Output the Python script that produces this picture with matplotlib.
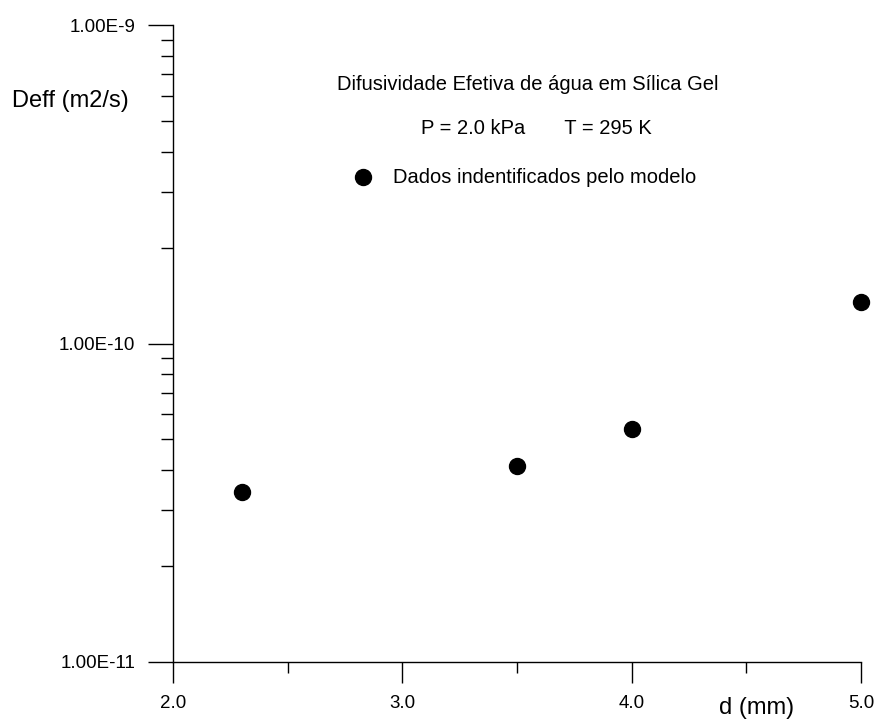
import matplotlib
matplotlib.use("Agg")
import matplotlib.pyplot as plt
from matplotlib.ticker import FixedLocator, LogLocator, NullFormatter, FixedFormatter

plt.rcParams['font.family'] = ['Liberation Sans', 'DejaVu Sans']

d_mm = [2.3, 3.5, 4.0, 5.0]
deff = [3.42e-11, 4.12e-11, 5.39e-11, 1.35e-10]

x_major = [2.0, 3.0, 4.0, 5.0]
x_major_labels = ["2.0", "3.0", "4.0", "5.0"]
x_minor = [2.5, 3.5, 4.5]
y_major = [1e-11, 1e-10, 1e-9]
y_major_labels = ["1.00E-11", "1.00E-10", "1.00E-9"]

title1 = "Difusividade Efetiva de água em Sílica Gel"
title2 = "P = 2.0 kPa       T = 295 K"
legend_label = "Dados indentificados pelo modelo"

W, H = 877, 722
fig = plt.figure(figsize=(W/100, H/100), dpi=100)
ax = fig.add_axes([173/W, 1-662/H, (861-173)/W, (662-25)/H])
ax.set_yscale('log')
ax.set_xlim(2.0, 5.0)
ax.set_ylim(1e-11, 1e-9)

ax.plot(d_mm, deff, 'o', color='black', markersize=11.5, clip_on=False, zorder=5)

for s in ['top', 'right']:
    ax.spines[s].set_visible(False)
for s in ['left', 'bottom']:
    ax.spines[s].set_linewidth(1.0)

ax.xaxis.set_major_locator(FixedLocator(x_major))
ax.xaxis.set_major_formatter(FixedFormatter(x_major_labels))
ax.xaxis.set_minor_locator(FixedLocator(x_minor))
ax.yaxis.set_major_locator(FixedLocator(y_major))
ax.yaxis.set_major_formatter(FixedFormatter(y_major_labels))
ax.yaxis.set_minor_locator(LogLocator(base=10, subs=range(2, 10)))
ax.yaxis.set_minor_formatter(NullFormatter())

ax.tick_params(axis='x', which='major', direction='out', length=15, width=1, pad=9, labelsize=13.5)
ax.tick_params(axis='x', which='minor', direction='out', length=8, width=1)
ax.tick_params(axis='y', which='major', direction='out', length=18, width=1, pad=9, labelsize=13.5)
ax.tick_params(axis='y', which='minor', direction='out', length=9, width=1)

def px(x, y):
    return x / W, 1 - y / H

fig.text(*px(12, 107), "Deff (m2/s)", fontsize=17, ha='left', va='baseline')
fig.text(*px(757, 714), "d (mm)", fontsize=17, ha='center', va='baseline')

fig.text(*px(528, 90), title1, fontsize=14.5, ha='center', va='baseline')
fig.text(*px(536, 134), title2, fontsize=14.5, ha='center', va='baseline')

# legend entry
leg_x = 2.0 + (363 - 173) / (861 - 173) * 3.0
leg_y = 10 ** (-11 + (662 - 177) / 318.5)
ax.plot([leg_x], [leg_y], 'o', color='black', markersize=11.5, clip_on=False)
fig.text(*px(393, 183), legend_label, fontsize=14.5, ha='left', va='baseline')

fig.savefig("out.png", dpi=100)
